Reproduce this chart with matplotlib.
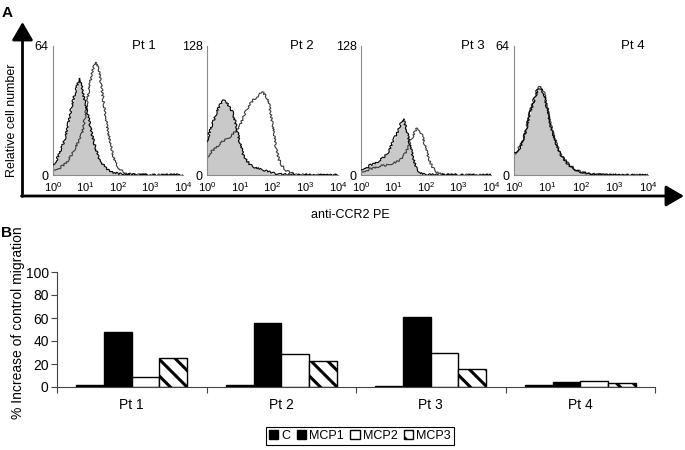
import numpy as np
import matplotlib
matplotlib.use('Agg')
import matplotlib.pyplot as plt

plt.rcParams['font.family'] = ['Liberation Sans', 'DejaVu Sans']
plt.rcParams['mathtext.fontset'] = 'custom'
plt.rcParams['mathtext.rm'] = 'Liberation Sans'
plt.rcParams['mathtext.it'] = 'Liberation Sans:italic'
plt.rcParams['mathtext.bf'] = 'Liberation Sans:bold'
plt.rcParams['hatch.linewidth'] = 2.2

# ---------------- data ----------------
patients = ['Pt 1', 'Pt 2', 'Pt 3', 'Pt 4']
hist_ymax = [64, 128, 128, 64]
decade_ticks = [1, 10, 100, 1000, 10000]
decade_labels = ['$10^0$', '$10^1$', '$10^2$', '$10^3$', '$10^4$']

# fluorescence channel positions (log10 units, 0..4)
log_fluor = [0.0, 0.1, 0.2, 0.3, 0.4, 0.5, 0.6, 0.7, 0.8, 0.9,
             1.0, 1.1, 1.2, 1.3, 1.4, 1.5, 1.6, 1.7, 1.8, 1.9,
             2.0, 2.1, 2.2, 2.3, 2.4, 2.5, 2.6, 2.7, 2.8, 2.9,
             3.0, 3.1, 3.2, 3.3, 3.4, 3.5, 3.6, 3.7, 3.8, 3.9, 4.0]

# isotype control histograms (filled grey)
ctrl_pt1 = [5, 7, 11, 15, 20, 28, 36, 42, 48, 43,
            35, 28, 20, 14, 9, 6, 4, 2.5, 1.6, 1.1,
            0.8, 0.6, 0.4, 0.3, 0.2, 0.2, 0.1, 0.1, 0.1, 0.1,
            0.1, 0, 0, 0, 0, 0, 0, 0, 0, 0, 0]
ctrl_pt2 = [33, 45, 54, 63, 70, 74, 72, 67, 61, 48,
            33, 21, 15, 11, 8, 7, 6, 5, 4, 3,
            2, 1.5, 1, 0.6, 0.4, 0.3, 0.2, 0.2, 0.1, 0.1,
            0.1, 0, 0, 0, 0, 0, 0, 0, 0, 0, 0]
ctrl_pt3 = [5, 7, 8, 10, 11, 13, 15, 18, 21, 27,
            35, 41, 49, 56, 46, 31, 18, 7, 2, 1,
            0.5, 0.3, 0.2, 0.1, 0.1, 0, 0, 0, 0, 0,
            0, 0, 0, 0, 0, 0, 0, 0, 0, 0, 0]
ctrl_pt4 = [11, 12, 14, 19, 25, 32, 37, 42, 43, 40,
            32, 24, 18, 13, 10, 7.5, 5.5, 4, 3, 2,
            1.5, 1.1, 0.8, 0.5, 0.4, 0.3, 0.2, 0.2, 0.1, 0.1,
            0.1, 0, 0, 0, 0, 0, 0, 0, 0, 0, 0]

# anti-CCR2 histograms (open)
ccr2_pt1 = [2.5, 3, 3.5, 4.5, 6, 8, 11, 14, 17, 21,
            30, 42, 51, 56, 53, 43, 31, 21, 13, 7,
            4, 2.2, 1.3, 0.8, 0.5, 0.3, 0.2, 0.1, 0.1, 0.1,
            0.1, 0, 0, 0, 0, 0, 0, 0, 0, 0, 0]
ccr2_pt2 = [17, 22, 25, 28, 31, 34, 36, 38, 41, 44,
            48, 57, 64, 70, 74, 77, 80, 82, 79, 70,
            51, 28, 15, 9, 5, 3, 2, 1.2, 0.7, 0.4,
            0.3, 0.2, 0.1, 0.1, 0, 0, 0, 0, 0, 0, 0]
ccr2_pt3 = [3, 4, 5, 6, 7, 8, 9, 9.5, 10, 11,
            12, 13, 15, 18, 24, 32, 39, 46, 45, 38,
            26, 15, 8, 3.5, 1.5, 0.8, 0.4, 0.2, 0.1, 0.1,
            0, 0, 0, 0, 0, 0, 0, 0, 0, 0, 0]
ccr2_pt4 = [10, 12, 15, 19, 26, 33, 38, 43, 44, 41,
            33, 25, 19, 14, 10, 8, 6, 4.5, 3.2, 2.2,
            1.6, 1.1, 0.8, 0.6, 0.4, 0.3, 0.2, 0.2, 0.1, 0.1,
            0.1, 0, 0, 0, 0, 0, 0, 0, 0, 0, 0]

ctrl_hists = [ctrl_pt1, ctrl_pt2, ctrl_pt3, ctrl_pt4]
ccr2_hists = [ccr2_pt1, ccr2_pt2, ccr2_pt3, ccr2_pt4]

# panel B: % increase of control migration
series = ['C', 'MCP1', 'MCP2', 'MCP3']
mig_C = [1.5, 1.5, 1.2, 1.5]
mig_MCP1 = [47.5, 56, 60.5, 4]
mig_MCP2 = [8.5, 28.5, 30, 5]
mig_MCP3 = [25.5, 22.5, 15.5, 3.5]

# ---------------- figure ----------------
W, H = 685, 450
fig = plt.figure(figsize=(W / 100, H / 100), dpi=100)


def px_axes(x0, y0, x1, y1, **kw):
    return fig.add_axes([x0 / W, 1 - y1 / H, (x1 - x0) / W, (y1 - y0) / H], **kw)


# overlay for arrows / free text (pixel coordinates, y down)
ov = px_axes(0, 0, W, H)
ov.set_xlim(0, W)
ov.set_ylim(H, 0)
ov.axis('off')

arrow_kw = dict(arrowstyle='-|>,head_length=0.55,head_width=0.32',
                lw=2.0, color='black', shrinkA=0, shrinkB=0, mutation_scale=20)
ov.annotate('', xy=(22.5, 22), xytext=(22.5, 196.5), arrowprops=arrow_kw)
ov.annotate('', xy=(684, 196), xytext=(21.5, 196), arrowprops=arrow_kw)

ov.text(2, 13, 'A', fontsize=11, fontweight='bold', va='center', ha='left')
ov.text(1, 233, 'B', fontsize=11, fontweight='bold', va='center', ha='left')
ov.text(12, 120, 'Relative cell number', rotation=90, fontsize=9,
        ha='center', va='center')
ov.text(350, 215, 'anti-CCR2 PE', fontsize=9, ha='center', va='center')
ov.text(18, 323, '% Increase of control migration', rotation=90, fontsize=10,
        ha='center', va='center')

# ---- panel A histograms ----
hist_boxes = [(53, 46, 183, 175), (207, 46, 338, 175),
              (361, 46, 491, 175), (514, 46, 648, 175)]
label_xfrac = [0.70, 0.72, 0.86, 0.89]
xs = 10 ** np.asarray(log_fluor)

for i, box in enumerate(hist_boxes):
    ax = px_axes(*box)
    ctrl = np.asarray(ctrl_hists[i], dtype=float)
    ccr2 = np.asarray(ccr2_hists[i], dtype=float)
    ax.fill_between(xs, ctrl, 0, color='#c9c9c9', lw=0, zorder=1)
    l1, = ax.plot(xs, ccr2, color='#3a3a3a', lw=0.8, zorder=2)
    l2, = ax.plot(xs, ctrl, color='black', lw=0.8, zorder=3)
    for ln in (l1, l2):
        ln.set_sketch_params(scale=1.0, length=2.0, randomness=8)
    ax.set_xscale('log')
    ax.set_xlim(1, 10000)
    ax.set_ylim(0, hist_ymax[i])
    ax.set_xticks(decade_ticks)
    ax.set_xticklabels(decade_labels)
    ax.xaxis.set_minor_locator(matplotlib.ticker.NullLocator())
    ax.set_yticks([0, hist_ymax[i]])
    ax.set_yticklabels(['0', str(hist_ymax[i])])
    ax.tick_params(axis='x', length=0, labelsize=8, pad=4)
    ax.tick_params(axis='y', length=0, labelsize=9, pad=3)
    for s in ('top', 'right'):
        ax.spines[s].set_visible(False)
    for s in ('left', 'bottom'):
        ax.spines[s].set_color('#8a8a8a')
        ax.spines[s].set_linewidth(0.8)
    ax.patch.set_alpha(0)
    ax.text(label_xfrac[i], 1.0, patients[i], transform=ax.transAxes,
            fontsize=9.5, ha='center', va='center')

# ---- panel B bar chart ----
bx = px_axes(57, 272, 655, 387)
pos = np.arange(len(patients))
bw = 0.185
styles = [dict(facecolor='black', hatch=None),
          dict(facecolor='black', hatch=None),
          dict(facecolor='white', hatch=None),
          dict(facecolor='white', hatch='\\\\')]
values = [mig_C, mig_MCP1, mig_MCP2, mig_MCP3]
handles = []
for k, (name, vals, st) in enumerate(zip(series, values, styles)):
    b = bx.bar(pos + (k - 1.5) * bw, vals, bw, facecolor=st['facecolor'],
               edgecolor='black', hatch=st['hatch'], lw=1.0, label=name,
               zorder=2)
    handles.append(b)

bx.set_xlim(-0.5, len(patients) - 0.5)
bx.set_ylim(0, 100)
bx.set_yticks([0, 20, 40, 60, 80, 100])
bx.set_xticks(pos)
bx.set_xticklabels(patients)
bx.set_xticks(np.arange(-0.5, len(patients), 1.0), minor=True)
bx.tick_params(axis='x', which='major', length=0, labelsize=10, pad=8)
bx.tick_params(axis='x', which='minor', length=4, width=0.8, color='#444444')
bx.tick_params(axis='y', length=4, width=0.8, color='#444444', labelsize=10, pad=2)
for s in ('top', 'right'):
    bx.spines[s].set_visible(False)
for s in ('left', 'bottom'):
    bx.spines[s].set_color('#444444')
    bx.spines[s].set_linewidth(0.8)

leg = fig.legend(handles=handles, labels=series, loc='center',
                 bbox_to_anchor=(360 / W, 1 - 436 / H), ncol=4, fontsize=9,
                 frameon=True, fancybox=False, edgecolor='black', framealpha=1,
                 handlelength=0.75, handleheight=0.75, handletextpad=0.25,
                 columnspacing=0.5, borderpad=0.25, borderaxespad=0)
leg.get_frame().set_linewidth(0.8)

fig.savefig('out.png', dpi=100)
